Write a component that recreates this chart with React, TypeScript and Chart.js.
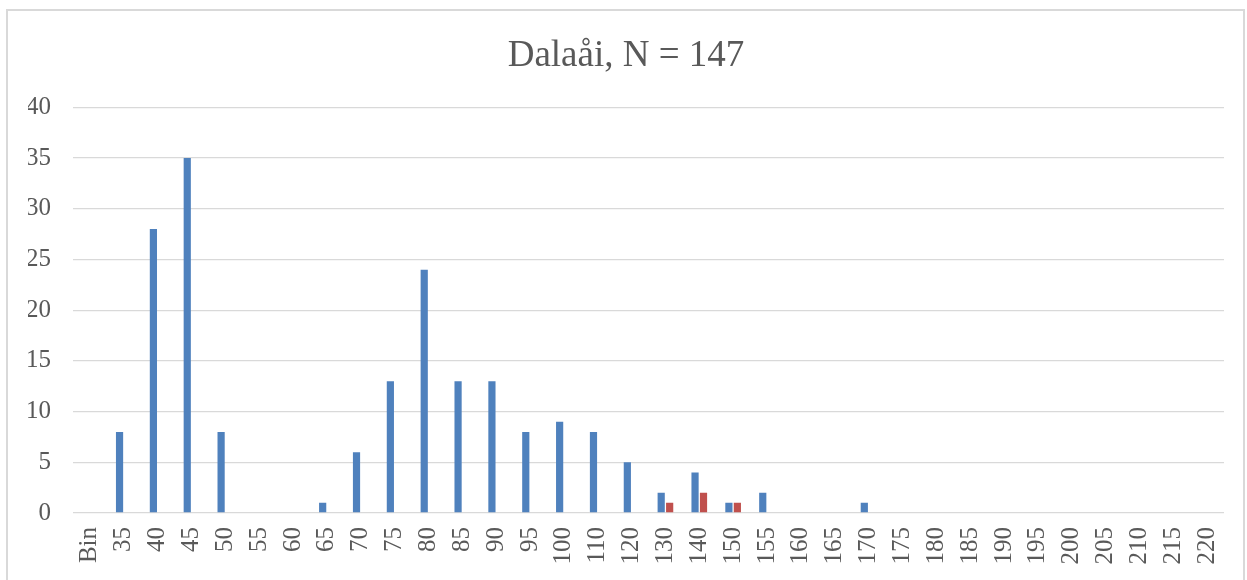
import React, { useEffect, useRef } from "react";
import { Chart, registerables } from "chart.js";

Chart.register(...registerables);

const categories = ["Bin", "35", "40", "45", "50", "55", "60", "65", "70", "75", "80", "85", "90", "95", "100", "110", "120", "130", "140", "150", "155", "160", "165", "170", "175", "180", "185", "190", "195", "200", "205", "210", "215", "220"];
const seriesBlue = [0, 8, 28, 35, 8, 0, 0, 1, 6, 13, 24, 13, 13, 8, 9, 8, 5, 2, 4, 1, 2, 0, 0, 1, 0, 0, 0, 0, 0, 0, 0, 0, 0, 0];
const seriesRed = [0, 0, 0, 0, 0, 0, 0, 0, 0, 0, 0, 0, 0, 0, 0, 0, 0, 1, 2, 1, 0, 0, 0, 0, 0, 0, 0, 0, 0, 0, 0, 0, 0, 0];
const titleText = "Dalaåi, N = 147";

const FONT = "'Liberation Serif', 'Times New Roman', serif";
const TEXT = "#595959";
const GRID = "#d9d9d9";

export default function App() {
  const ref = useRef<HTMLCanvasElement | null>(null);
  useEffect(() => {
    if (!ref.current) return;
    const chart = new Chart(ref.current, {
      type: "bar",
      data: {
        labels: categories,
        datasets: [
          { label: "A", data: seriesBlue, backgroundColor: "#4F81BD", borderWidth: 0, barPercentage: 0.85, categoryPercentage: 0.5 },
          { label: "B", data: seriesRed, backgroundColor: "#C0504D", borderWidth: 0, barPercentage: 0.85, categoryPercentage: 0.5 },
        ],
      },
      options: {
        responsive: false,
        animation: false,
        devicePixelRatio: 1,
        layout: { padding: { left: 20, right: 19, top: 0, bottom: 0 } },
        plugins: {
          legend: { display: false },
          tooltip: { enabled: false },
          title: {
            display: true,
            text: titleText,
            color: TEXT,
            font: { family: FONT, size: 37, weight: "normal" },
            padding: { top: 23, bottom: 29 },
          },
        },
        scales: {
          x: {
            grid: { display: false, drawTicks: false },
            border: { display: false },
            ticks: {
              color: TEXT,
              font: { family: FONT, size: 25 },
              minRotation: 90,
              maxRotation: 90,
              autoSkip: false,
              padding: 14,
            },
            afterFit: (s: any) => {
              s.height = 67;
              s.paddingLeft = 0;
              s.paddingRight = 0;
            },
          },
          y: {
            min: 0,
            max: 40,
            grid: { color: GRID, lineWidth: 1.3, drawTicks: false },
            border: { display: false },
            ticks: {
              stepSize: 5,
              color: TEXT,
              font: { family: FONT, size: 25 },
              padding: 22,
            },
            afterFit: (s: any) => { s.width = 45; },
          },
        },
      },
    });
    return () => chart.destroy();
  }, []);
  return (
    <div
      style={{
        position: "fixed",
        left: 6,
        top: 9,
        width: 1239,
        height: 600,
        border: "2px solid #d9d9d9",
        boxSizing: "border-box",
        background: "#fff",
      }}
    >
      <canvas ref={ref} width={1235} height={569} style={{ display: "block" }} />
    </div>
  );
}
